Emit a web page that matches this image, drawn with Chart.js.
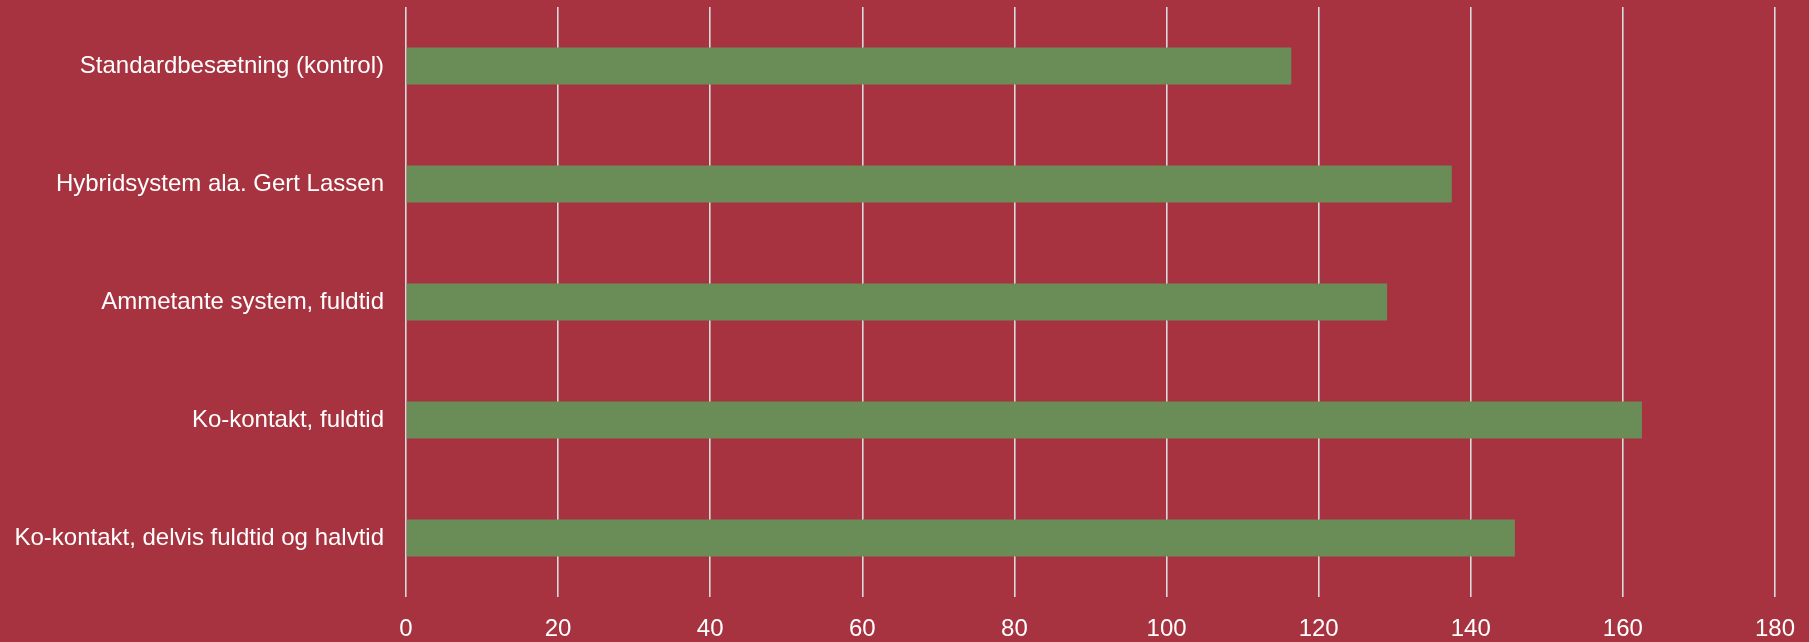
<!DOCTYPE html>
<html>
<head>
<meta charset="utf-8">
<script src="https://cdn.jsdelivr.net/npm/chart.js@4"></script>
<style>
  html, body { margin: 0; padding: 0; background: #A6333F; }
  #wrap { width: 1809px; height: 642px; }
</style>
</head>
<body>
<div id="wrap"><canvas id="chart"></canvas></div>
<script>
const categories = [
    'Standardbesætning (kontrol)',
    'Hybridsystem ala. Gert Lassen',
    'Ammetante system, fuldtid',
    'Ko-kontakt, fuldtid',
    'Ko-kontakt, delvis fuldtid og halvtid'
];
const values = [116.4, 137.5, 129.0, 162.5, 145.8];
const xTicks = [0, 20, 40, 60, 80, 100, 120, 140, 160, 180];

const ctx = document.getElementById('chart').getContext('2d');
new Chart(ctx, {
    type: 'bar',
    data: {
        labels: categories,
        datasets: [{
            data: values,
            backgroundColor: '#6A8C57',
            barPercentage: 0.313,
            categoryPercentage: 1.0
        }]
    },
    options: {
        indexAxis: 'y',
        responsive: true,
        maintainAspectRatio: false,
        animation: false,
        layout: { padding: { top: 7, right: 34, bottom: 0, left: 0 } },
        plugins: {
            legend: { display: false },
            tooltip: { enabled: false }
        },
        scales: {
            x: {
                min: 0,
                max: 180,
                afterBuildTicks: axis => { axis.ticks = xTicks.map(v => ({ value: v })); },
                afterFit: scale => {
                    scale.height = 45;
                    scale.paddingLeft = 0;
                    scale.paddingRight = 0;
                },
                grid: { color: '#D9D9D9', lineWidth: 1.6, drawTicks: false },
                border: { display: false },
                ticks: {
                    color: '#FFFFFF',
                    padding: 18,
                    font: { family: '"Liberation Sans", Arial, sans-serif', size: 24 }
                }
            },
            y: {
                afterFit: scale => {
                    scale.width = 406;
                    scale.paddingTop = 0;
                    scale.paddingBottom = 0;
                },
                grid: { display: false, drawTicks: false },
                border: { display: false },
                ticks: {
                    color: '#FFFFFF',
                    padding: 22,
                    font: { family: '"Liberation Sans", Arial, sans-serif', size: 24 }
                }
            }
        }
    }
});
</script>
</body>
</html>
